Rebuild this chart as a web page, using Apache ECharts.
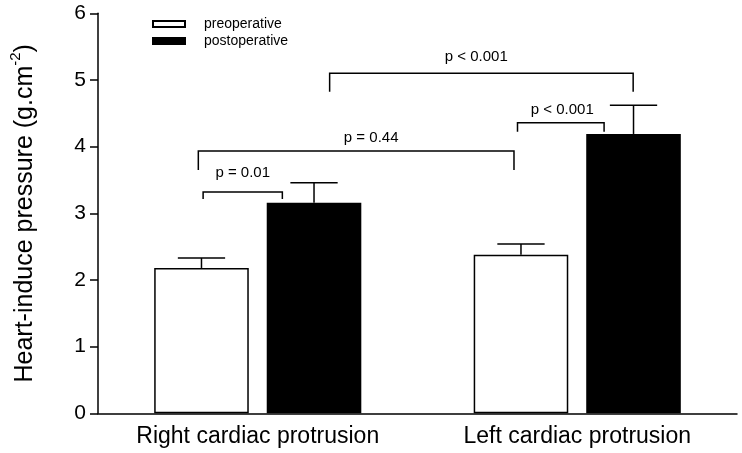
<!DOCTYPE html>
<html>
<head>
<meta charset="utf-8">
<script src="https://cdn.jsdelivr.net/npm/echarts@6/dist/echarts.min.js"></script>
<style>
html,body{margin:0;padding:0;background:#fff;}
#chart{width:742px;height:453px;}
</style>
</head>
<body>
<div id="chart"></div>
<script>
// ---- data ----
const categories = ['Right cardiac protrusion', 'Left cardiac protrusion'];
const seriesNames = ['preoperative', 'postoperative'];
const preValues = [2.18, 2.38];
const preErrors = [0.15, 0.16];
const postValues = [3.16, 4.19];
const postErrors = [0.30, 0.43];
const yTicks = [0, 1, 2, 3, 4, 5, 6];
const pLabels = ['p = 0.01', 'p = 0.44', 'p < 0.001', 'p < 0.001'];

// ---- annotation layout (brackets): category index + offset in band fractions, y in data units ----
const brackets = [
  {l: [0, -0.171], r: [0, 0.077], y: 3.32, legL: 3.215, legR: 3.215, tx: [0, -0.047], ty: 3.61},
  {l: [0, -0.186], r: [1, -0.198], y: 3.935, legL: 3.65, legR: 3.65, tx: [0, 0.355], ty: 4.13},
  {l: [1, -0.187], r: [1, 0.084], y: 4.36, legL: 4.224, legR: 4.224, tx: [1, -0.047], ty: 4.55},
  {l: [0, 0.225], r: [1, 0.175], y: 5.10, legL: 4.824, legR: 4.824, tx: [0, 0.684], ty: 5.35}
];

const BAR_FRAC = 0.2960;
const GAP_FRAC = 0.19;
const FONT = '"Liberation Sans", Arial, Helvetica, sans-serif';

function xAt(api, cat, off) {
  const c = api.coord([cat, 0]);
  const band = api.size([1, 0])[0];
  return c[0] + off * band;
}
function barCenterX(api, cat, sIdx) {
  const c = api.coord([cat, 0]);
  const band = api.size([1, 0])[0];
  const bw = band * BAR_FRAC;
  const off = (bw + bw * GAP_FRAC) / 2;
  return c[0] + (sIdx === 0 ? -off : off);
}
function errRender(sIdx) {
  return function (params, api) {
    const cat = api.value(0);
    const v = api.value(1);
    const e = api.value(2);
    const x = barCenterX(api, cat, sIdx);
    const yb = api.coord([cat, v])[1];
    const yt = api.coord([cat, v + e])[1];
    const band = api.size([1, 0])[0];
    const capW = band * BAR_FRAC * 0.5;
    const st = {stroke: '#000', lineWidth: 1.5};
    return {
      type: 'group',
      children: [
        {type: 'line', shape: {x1: x, y1: yb, x2: x, y2: yt}, style: st},
        {type: 'line', shape: {x1: x - capW / 2, y1: yt, x2: x + capW / 2, y2: yt}, style: st}
      ]
    };
  };
}

const chart = echarts.init(document.getElementById('chart'));
chart.setOption({
  animation: false,
  backgroundColor: '#fff',
  textStyle: {fontFamily: FONT},
  grid: {left: 92, right: 5, top: 13.3, bottom: 39.7, containLabel: false},
  legend: {
    orient: 'vertical', left: 147, top: 12,
    icon: 'rect', itemWidth: 32, itemHeight: 6, itemGap: 3,
    data: seriesNames,
    textStyle: {fontSize: 14, color: '#000', fontFamily: FONT, padding: [0, 0, 0, 14]}
  },
  xAxis: {
    type: 'category', data: categories,
    axisLine: {lineStyle: {color: '#000', width: 1.5}},
    axisTick: {alignWithLabel: true, length: 7, lineStyle: {color: '#000', width: 1.5}},
    axisLabel: {fontSize: 23, color: '#000', margin: 12, fontFamily: FONT}
  },
  yAxis: {
    type: 'value', min: yTicks[0], max: yTicks[yTicks.length - 1], interval: 1,
    splitLine: {show: false},
    axisLine: {show: true, lineStyle: {color: '#000', width: 1.5}},
    axisTick: {show: true, length: 8, lineStyle: {color: '#000', width: 1.5}},
    axisLabel: {fontSize: 21, color: '#000', margin: 12, fontFamily: FONT},
    name: '{m|Heart-induce pressure (g.cm}{s|-2}{m|)}',
    nameLocation: 'middle', nameGap: 60,
    nameTextStyle: {
      rich: {
        m: {fontSize: 25, color: '#000', fontFamily: FONT, lineHeight: 30, verticalAlign: 'bottom'},
        s: {fontSize: 15, color: '#000', fontFamily: FONT, lineHeight: 30, verticalAlign: 'top'}
      }
    }
  },
  series: [
    {
      name: seriesNames[0], type: 'bar', data: preValues,
      barWidth: (BAR_FRAC * 100) + '%', barGap: (GAP_FRAC * 100) + '%',
      itemStyle: {color: '#fff', borderColor: '#000', borderWidth: 1.5}
    },
    {
      name: seriesNames[1], type: 'bar', data: postValues,
      barWidth: (BAR_FRAC * 100) + '%', barGap: (GAP_FRAC * 100) + '%',
      itemStyle: {color: '#000', borderColor: '#000', borderWidth: 1.5}
    },
    {
      type: 'custom', renderItem: errRender(0), silent: true, z: 5,
      data: preValues.map((v, i) => [i, v, preErrors[i]])
    },
    {
      type: 'custom', renderItem: errRender(1), silent: true, z: 5,
      data: postValues.map((v, i) => [i, v, postErrors[i]])
    },
    {
      type: 'custom', silent: true, z: 6,
      data: brackets.map((b, i) => [i]),
      renderItem: function (params, api) {
        const b = brackets[params.dataIndex];
        const xl = xAt(api, b.l[0], b.l[1]);
        const xr = xAt(api, b.r[0], b.r[1]);
        const y = api.coord([0, b.y])[1];
        const yl = api.coord([0, b.legL])[1];
        const yr = api.coord([0, b.legR])[1];
        const tx = xAt(api, b.tx[0], b.tx[1]);
        const ty = api.coord([0, b.ty])[1];
        return {
          type: 'group',
          children: [
            {type: 'polyline', shape: {points: [[xl, yl], [xl, y], [xr, y], [xr, yr]]},
             style: {stroke: '#000', lineWidth: 1.5, fill: null}},
            {type: 'text', style: {text: pLabels[params.dataIndex], x: tx, y: ty,
             align: 'center', verticalAlign: 'middle', fill: '#000',
             font: '15px ' + FONT}}
          ]
        };
      }
    }
  ]
});
</script>
</body>
</html>
